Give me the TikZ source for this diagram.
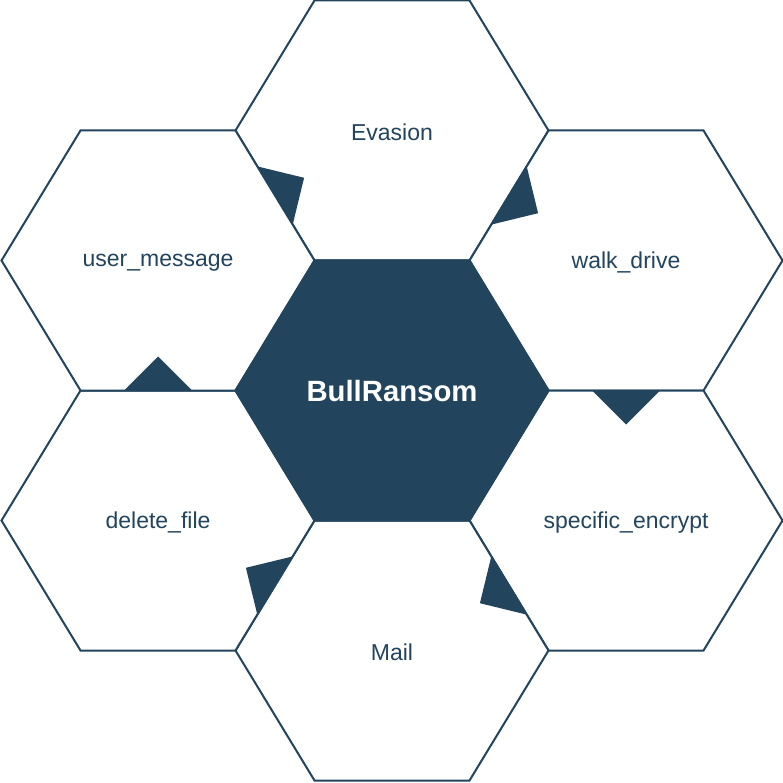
\documentclass[tikz,border=0pt]{standalone}
\usepackage{fontspec}
\setmainfont{Liberation Sans}
\usetikzlibrary{calc}
\definecolor{navy}{HTML}{23445D}
\begin{document}
\begin{tikzpicture}[x=1pt,y=-1pt,
  hexa/.style={draw=navy,line width=2pt,line join=miter,fill=white},
  hexcore/.style={draw=navy,line width=2pt,fill=navy},
  lbl/.style={text=navy,font=\fontsize{23}{27}\selectfont,inner sep=0pt,yshift=-2pt},
  corelbl/.style={text=white,font=\fontsize{29.3}{33}\selectfont\bfseries,inner sep=0pt,yshift=-1pt},
  tri/.style={fill=navy}]
\useasboundingbox[fill=white] (0,0) rectangle (783,783);
\coordinate (cc) at (392,390.5);
\coordinate (ev) at (392,130.5);
\coordinate (wd) at (626,260.5);
\coordinate (se) at (626,520.5);
\coordinate (ml) at (392,650.5);
\coordinate (df) at (158,520.5);
\coordinate (um) at (158,260.5);
\foreach \c in {ev,wd,se,ml,df,um}{
  \draw[hexa] ($(\c)+(-156.5,0)$) -- ++(79,-130) -- ++(155,0) -- ++(79,130) -- ++(-79,130) -- ++(-155,0) -- cycle;
}
\draw[hexcore] ($(cc)+(-156.5,0)$) -- ++(79,-130) -- ++(155,0) -- ++(79,130) -- ++(-79,130) -- ++(-155,0) -- cycle;
\node[corelbl] (ncc) at (cc) {BullRansom};
\node[lbl] (nev) at (ev) {Evasion};
\node[lbl] (nwd) at (wd) {walk\_drive};
\node[lbl] (nse) at (se) {specific\_encrypt};
\node[lbl] (nml) at (ml) {Mail};
\node[lbl] (ndf) at (df) {delete\_file};
\node[lbl] (num) at (um) {user\_message};
% edge midpoints
\coordinate (m1) at ($(ev)+(-117,65)$);
\coordinate (m2) at ($(ev)+(117,65)$);
\coordinate (m3) at ($(wd)+(0,130)$);
\coordinate (m4) at ($(ml)+(117,-65)$);
\coordinate (m5) at ($(ml)+(-117,-65)$);
\coordinate (m6) at ($(um)+(0,130)$);
\fill[tri] ($(m1)+(17.7,29.1)$) -- ($(m1)-(17.7,29.1)$) -- ($(m1)+(29.1,-17.7)$) -- cycle;
\fill[tri] ($(m2)+(17.7,-29.1)$) -- ($(m2)-(17.7,-29.1)$) -- ($(m2)+(29.1,17.7)$) -- cycle;
\fill[tri] ($(m3)+(34,0)$) -- ($(m3)-(34,0)$) -- ($(m3)+(0,34)$) -- cycle;
\fill[tri] ($(m4)+(17.7,29.1)$) -- ($(m4)-(17.7,29.1)$) -- ($(m4)+(-29.1,17.7)$) -- cycle;
\fill[tri] ($(m5)+(17.7,-29.1)$) -- ($(m5)-(17.7,-29.1)$) -- ($(m5)+(-29.1,-17.7)$) -- cycle;
\fill[tri] ($(m6)+(34,0)$) -- ($(m6)-(34,0)$) -- ($(m6)+(0,-34)$) -- cycle;
\end{tikzpicture}
\end{document}
